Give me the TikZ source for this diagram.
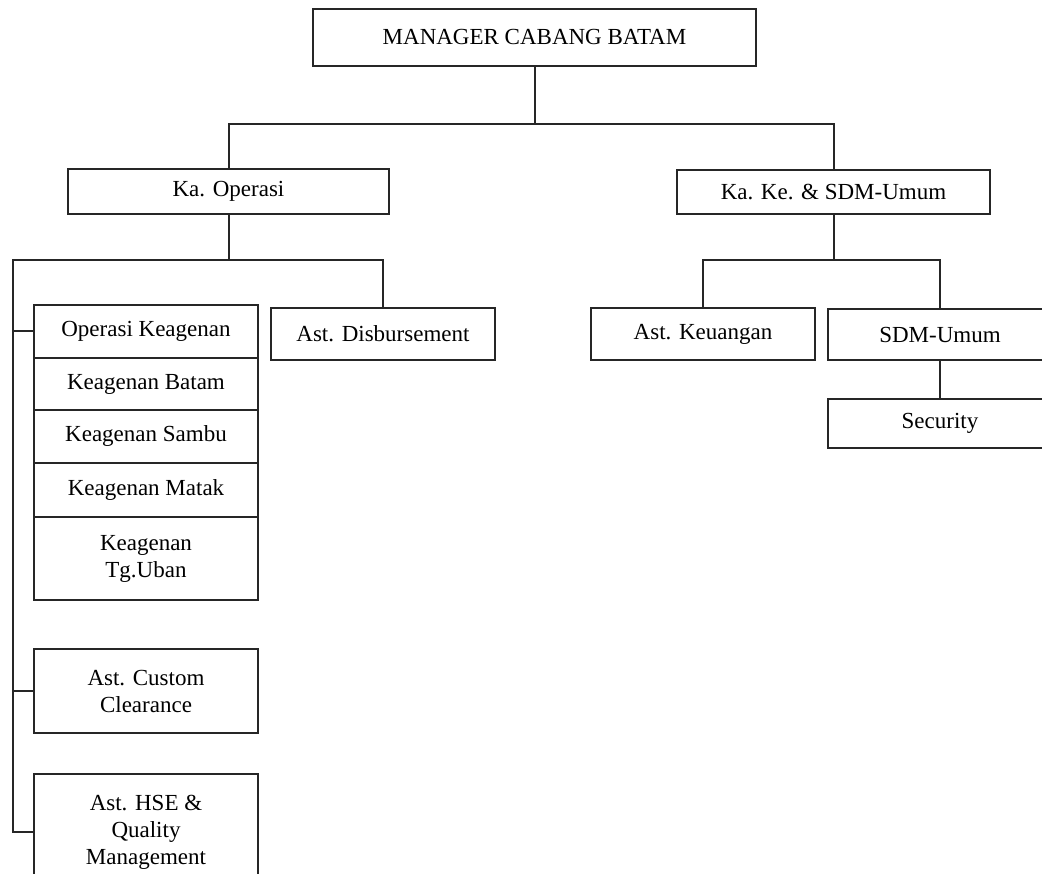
\documentclass[tikz,border=0pt]{standalone}
\usepackage{fontspec}
\setmainfont{Liberation Serif}
\begin{document}
\begin{tikzpicture}[x=1pt,y=-1pt,
  box/.style={draw=black!85, line width=2pt, rectangle, anchor=north west, inner sep=0pt,
     align=center, font=\fontsize{23}{27}\selectfont},
  conn/.style={draw=black!85, line width=2pt}]
\useasboundingbox[fill=white] (0,0) rectangle (1042,874);
% top
\node[box, minimum width=443pt, minimum height=57pt] (mgr) at (312,8) {MANAGER CABANG BATAM};
\node[box, minimum width=321pt, minimum height=45pt] (kaop) at (67,168) {Ka. Operasi};
\node[box, minimum width=313pt, minimum height=44pt] (kake) at (676,169) {Ka. Ke. \& SDM-Umum};
% left branch
\node[box, minimum width=224pt, minimum height=52pt] (disb) at (270,307) {Ast. Disbursement};
\node[box, minimum width=224pt, minimum height=53pt] (op1) at (33,304) {Operasi Keagenan};
\node[box, minimum width=224pt, minimum height=52pt] (op2) at (33,357) {Keagenan Batam};
\node[box, minimum width=224pt, minimum height=53pt] (op3) at (33,409) {Keagenan Sambu};
\node[box, minimum width=224pt, minimum height=54pt] (op4) at (33,462) {Keagenan Matak};
\node[box, minimum width=224pt, minimum height=83pt] (op5) at (33,516) {Keagenan\\Tg.Uban};
\node[box, minimum width=224pt, minimum height=84pt] (cc) at (33,648) {Ast. Custom\\Clearance};
\node[box, minimum width=224pt, minimum height=116pt] (hse) at (33,773) {Ast. HSE \&\\Quality\\Management};
% right branch
\node[box, minimum width=224pt, minimum height=52pt] (keu) at (590,307) {Ast. Keuangan};
\node[box, minimum width=224pt, minimum height=51pt] (sdm) at (827,308) {SDM-Umum};
\node[box, minimum width=224pt, minimum height=49pt] (sec) at (827,398) {Security};
% connectors
\coordinate (h1) at (533,124);
\coordinate (b0) at (13,260);
\draw[conn] (mgr.south) -- (mgr.south |- h1);
\draw[conn] (kaop.north) |- (h1) -| (kake.north);
\draw[conn] (kaop.south) -- (kaop.south |- b0);
\draw[conn] (disb.north) |- (b0) |- (hse.west);
\draw[conn] (op1.west) -- (op1.west -| b0);
\draw[conn] (cc.west) -- (cc.west -| b0);
\draw[conn] (kake.south) -- (kake.south |- b0);
\draw[conn] (keu.north) |- (kake.south |- b0) -| (sdm.north);
\draw[conn] (sdm.south) -- (sec.north);
\end{tikzpicture}
\end{document}
